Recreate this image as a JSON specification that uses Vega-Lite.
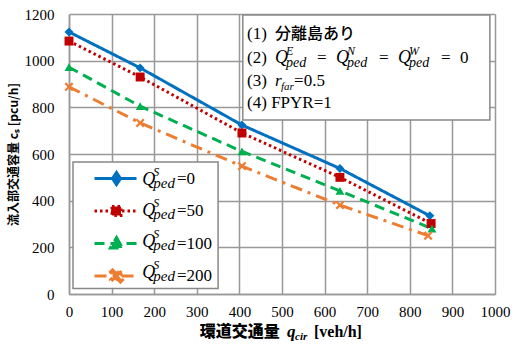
{
  "$schema": "https://vega.github.io/schema/vega-lite/v6.json",
  "width": 426,
  "height": 280,
  "autosize": {"type": "none"},
  "padding": {"left": 69, "top": 14, "right": 20, "bottom": 53},
  "background": "white",
  "config": {
    "view": {"stroke": null},
    "font": "Liberation Serif",
    "text": {"color": "#000000", "font": "Liberation Serif", "align": "left", "baseline": "alphabetic", "fontSize": 17},
    "axis": {
      "gridColor": "#999999",
      "gridWidth": 1.5,
      "domainColor": "#999999",
      "domainWidth": 1.5,
      "ticks": false,
      "labelFont": "Liberation Serif",
      "labelFontSize": 15,
      "labelColor": "#000000",
      "titleColor": "#000000",
      "labelOverlap": false,
      "labelFlush": false,
      "format": "d"
    }
  },
  "layer": [
    {
      "data": {
        "values": [
          {"q": "0", "x": 0, "y": 1123},
          {"q": "0", "x": 167, "y": 969},
          {"q": "0", "x": 406, "y": 724},
          {"q": "0", "x": 636, "y": 538},
          {"q": "0", "x": 847, "y": 335},
          {"q": "50", "x": 0, "y": 1084},
          {"q": "50", "x": 167, "y": 930},
          {"q": "50", "x": 406, "y": 690},
          {"q": "50", "x": 636, "y": 500},
          {"q": "50", "x": 850, "y": 302},
          {"q": "100", "x": 0, "y": 972},
          {"q": "100", "x": 167, "y": 805},
          {"q": "100", "x": 406, "y": 611},
          {"q": "100", "x": 636, "y": 442},
          {"q": "100", "x": 852, "y": 280},
          {"q": "200", "x": 0, "y": 888},
          {"q": "200", "x": 167, "y": 733},
          {"q": "200", "x": 406, "y": 548},
          {"q": "200", "x": 636, "y": 381},
          {"q": "200", "x": 843, "y": 250}
        ]
      },
      "resolve": {"legend": {"color": "independent", "shape": "independent", "strokeDash": "independent"}},
      "layer": [
        {
          "mark": {"type": "line", "strokeWidth": 3},
          "encoding": {
            "x": {
              "field": "x", "type": "quantitative",
              "scale": {"domain": [0, 1000], "nice": false},
              "axis": {"values": [0,100,200,300,400,500,600,700,800,900,1000], "labelPadding": 10, "title": null}
            },
            "y": {
              "field": "y", "type": "quantitative",
              "scale": {"domain": [0, 1200], "nice": false},
              "axis": {"values": [0,200,400,600,800,1000,1200], "labelPadding": 15,
                       "title": "流入部交通容量 cₛ [pcu/h]", "titleFont": "Noto Sans CJK JP, Liberation Serif",
                       "titleFontSize": 12, "titleFontWeight": "bold", "titlePadding": 4}
            },
            "color": {
              "field": "q", "type": "nominal",
              "scale": {"domain": ["0","50","100","200"], "range": ["#0070C0","#C00000","#00B050","#ED7D31"]},
              "legend": {
                "orient": "none", "legendX": 4, "legendY": 146, "title": null,
                "strokeColor": null, "fillColor": null, "padding": 10,
                "labelFont": "Liberation Serif", "labelFontSize": 17, "labelColor": "#000000",
                "symbolSize": 196, "rowPadding": 9.5, "labelOffset": 77,
                "labelExpr": "'=' + datum.value",
                "encode": {
                  "symbols": {
                    "update": {
                      "shape": {"signal": "datum.value == '0' ? 'M0.43,0L6.43,0M3.57,-0.86L4.14,0L3.57,0.86L3,0Z' : datum.value == '50' ? 'M0.43,0L6.43,0M2.93,-0.64L4.21,-0.64L4.21,0.64L2.93,0.64Z' : datum.value == '100' ? 'M0.43,0L6.43,0M3.57,-0.86L4.43,0.64L2.71,0.64Z' : 'M0.43,0L6.43,0M2.71,-0.56L3.01,-0.86L3.57,-0.3L4.13,-0.86L4.43,-0.56L3.87,0L4.43,0.56L4.13,0.86L3.57,0.3L3.01,0.86L2.71,0.56L3.27,0Z'"},
                      "strokeDash": {"signal": "datum.value == '0' ? [1,0] : datum.value == '50' ? [2.5,3] : datum.value == '100' ? [10,6] : [12,6,3,6]"},
                      "stroke": {"scale": "color", "field": "value"},
                      "fill": {"scale": "color", "field": "value"},
                      "strokeWidth": {"value": 3},
                      "opacity": {"value": 1}
                    }
                  }
                }
              }
            },
            "strokeDash": {
              "field": "q", "type": "nominal",
              "scale": {"domain": ["0","50","100","200"], "range": [[1,0],[2.5,3],[10,6],[12,6,3,6]]},
              "legend": null
            }
          }
        },
        {
          "mark": {"type": "point", "filled": true, "opacity": 1, "size": 80},
          "encoding": {
            "x": {"field": "x", "type": "quantitative"},
            "y": {"field": "y", "type": "quantitative"},
            "color": {"field": "q", "type": "nominal", "legend": null},
            "shape": {
              "field": "q", "type": "nominal",
              "scale": {"domain": ["0","50","100","200"], "range": ["diamond", "square", "triangle-up", "M-1,-0.65L-0.65,-1L0,-0.35L0.65,-1L1,-0.65L0.35,0L1,0.65L0.65,1L0,0.35L-0.65,1L-1,0.65L-0.35,0Z"]},
              "legend": null
            }
          }
        }
      ]
    },
    {
      "data": {"values": [{}]},
      "layer": [
        {
          "mark": {"type": "rect", "fill": "white", "stroke": "#888888", "strokeWidth": 1.5},
          "encoding": {
            "x": {"datum": 408, "type": "quantitative"},
            "x2": {"datum": 988},
            "y": {"datum": 1196, "type": "quantitative"},
            "y2": {"datum": 746}
          }
        },
        {
          "mark": {"type": "rect", "fill": "white", "stroke": "#888888", "strokeWidth": 1.5},
          "encoding": {
            "x": {"datum": 9.4, "type": "quantitative"},
            "x2": {"datum": 350},
            "y": {"datum": 566, "type": "quantitative"},
            "y2": {"datum": 24}
          }
        },
        {"mark": {"type": "text", "dx": 0},
         "encoding": {"x": {"datum": 418}, "y": {"datum": 1093}, "text": {"value": "(1)"}}},
        {"mark": {"type": "text", "dx": 28, "font": "Noto Sans CJK JP", "fontSize": 16, "fontWeight": 500},
         "encoding": {"x": {"datum": 418}, "y": {"datum": 1093}, "text": {"value": "分離島あり"}}},

        {"mark": {"type": "text", "dx": 0},
         "encoding": {"x": {"datum": 418}, "y": {"datum": 990}, "text": {"value": "(2)"}}},
        {"mark": {"type": "text", "dx": 28, "fontStyle": "italic", "fontSize": 18},
         "encoding": {"x": {"datum": 418}, "y": {"datum": 990}, "text": {"value": "Q"}}},
        {"mark": {"type": "text", "dx": 39, "dy": -8, "fontStyle": "italic", "fontSize": 12},
         "encoding": {"x": {"datum": 418}, "y": {"datum": 990}, "text": {"value": "E"}}},
        {"mark": {"type": "text", "dx": 39, "dy": 4, "fontStyle": "italic", "fontSize": 14},
         "encoding": {"x": {"datum": 418}, "y": {"datum": 990}, "text": {"value": "ped"}}},
        {"mark": {"type": "text", "dx": 70},
         "encoding": {"x": {"datum": 418}, "y": {"datum": 990}, "text": {"value": "="}}},
        {"mark": {"type": "text", "dx": 89, "fontStyle": "italic", "fontSize": 18},
         "encoding": {"x": {"datum": 418}, "y": {"datum": 990}, "text": {"value": "Q"}}},
        {"mark": {"type": "text", "dx": 100, "dy": -8, "fontStyle": "italic", "fontSize": 12},
         "encoding": {"x": {"datum": 418}, "y": {"datum": 990}, "text": {"value": "N"}}},
        {"mark": {"type": "text", "dx": 100, "dy": 4, "fontStyle": "italic", "fontSize": 14},
         "encoding": {"x": {"datum": 418}, "y": {"datum": 990}, "text": {"value": "ped"}}},
        {"mark": {"type": "text", "dx": 132},
         "encoding": {"x": {"datum": 418}, "y": {"datum": 990}, "text": {"value": "="}}},
        {"mark": {"type": "text", "dx": 151, "fontStyle": "italic", "fontSize": 18},
         "encoding": {"x": {"datum": 418}, "y": {"datum": 990}, "text": {"value": "Q"}}},
        {"mark": {"type": "text", "dx": 162, "dy": -8, "fontStyle": "italic", "fontSize": 12},
         "encoding": {"x": {"datum": 418}, "y": {"datum": 990}, "text": {"value": "W"}}},
        {"mark": {"type": "text", "dx": 162, "dy": 4, "fontStyle": "italic", "fontSize": 14},
         "encoding": {"x": {"datum": 418}, "y": {"datum": 990}, "text": {"value": "ped"}}},
        {"mark": {"type": "text", "dx": 194},
         "encoding": {"x": {"datum": 418}, "y": {"datum": 990}, "text": {"value": "="}}},
        {"mark": {"type": "text", "dx": 213},
         "encoding": {"x": {"datum": 418}, "y": {"datum": 990}, "text": {"value": "0"}}},

        {"mark": {"type": "text", "dx": 0},
         "encoding": {"x": {"datum": 418}, "y": {"datum": 891}, "text": {"value": "(3)"}}},
        {"mark": {"type": "text", "dx": 28, "fontStyle": "italic"},
         "encoding": {"x": {"datum": 418}, "y": {"datum": 891}, "text": {"value": "r"}}},
        {"mark": {"type": "text", "dx": 34, "dy": 4, "fontStyle": "italic", "fontSize": 11},
         "encoding": {"x": {"datum": 418}, "y": {"datum": 891}, "text": {"value": "far"}}},
        {"mark": {"type": "text", "dx": 47},
         "encoding": {"x": {"datum": 418}, "y": {"datum": 891}, "text": {"value": "=0.5"}}},

        {"mark": {"type": "text", "dx": 0},
         "encoding": {"x": {"datum": 418}, "y": {"datum": 797}, "text": {"value": "(4) FPYR=1"}}},

        {"mark": {"type": "text", "fontStyle": "italic", "fontSize": 18},
         "encoding": {"x": {"datum": 172}, "y": {"datum": 467}, "text": {"value": "Q"}}},
        {"mark": {"type": "text", "dx": 11, "dy": -9, "fontStyle": "italic", "fontSize": 12},
         "encoding": {"x": {"datum": 172}, "y": {"datum": 467}, "text": {"value": "S"}}},
        {"mark": {"type": "text", "dx": 11, "dy": 3, "fontStyle": "italic", "fontSize": 15},
         "encoding": {"x": {"datum": 172}, "y": {"datum": 467}, "text": {"value": "ped"}}},
        {"mark": {"type": "text", "fontStyle": "italic", "fontSize": 18},
         "encoding": {"x": {"datum": 172}, "y": {"datum": 334}, "text": {"value": "Q"}}},
        {"mark": {"type": "text", "dx": 11, "dy": -9, "fontStyle": "italic", "fontSize": 12},
         "encoding": {"x": {"datum": 172}, "y": {"datum": 334}, "text": {"value": "S"}}},
        {"mark": {"type": "text", "dx": 11, "dy": 3, "fontStyle": "italic", "fontSize": 15},
         "encoding": {"x": {"datum": 172}, "y": {"datum": 334}, "text": {"value": "ped"}}},
        {"mark": {"type": "text", "fontStyle": "italic", "fontSize": 18},
         "encoding": {"x": {"datum": 172}, "y": {"datum": 201}, "text": {"value": "Q"}}},
        {"mark": {"type": "text", "dx": 11, "dy": -9, "fontStyle": "italic", "fontSize": 12},
         "encoding": {"x": {"datum": 172}, "y": {"datum": 201}, "text": {"value": "S"}}},
        {"mark": {"type": "text", "dx": 11, "dy": 3, "fontStyle": "italic", "fontSize": 15},
         "encoding": {"x": {"datum": 172}, "y": {"datum": 201}, "text": {"value": "ped"}}},
        {"mark": {"type": "text", "fontStyle": "italic", "fontSize": 18},
         "encoding": {"x": {"datum": 172}, "y": {"datum": 69}, "text": {"value": "Q"}}},
        {"mark": {"type": "text", "dx": 11, "dy": -9, "fontStyle": "italic", "fontSize": 12},
         "encoding": {"x": {"datum": 172}, "y": {"datum": 69}, "text": {"value": "S"}}},
        {"mark": {"type": "text", "dx": 11, "dy": 3, "fontStyle": "italic", "fontSize": 15},
         "encoding": {"x": {"datum": 172}, "y": {"datum": 69}, "text": {"value": "ped"}}},

        {"mark": {"type": "text", "font": "Noto Sans CJK JP", "fontSize": 16, "fontWeight": 900},
         "encoding": {"x": {"datum": 307}, "y": {"datum": -184}, "text": {"value": "環道交通量"}}},
        {"mark": {"type": "text", "fontStyle": "italic", "fontWeight": "bold", "fontSize": 17},
         "encoding": {"x": {"datum": 512}, "y": {"datum": -184}, "text": {"value": "q"}}},
        {"mark": {"type": "text", "dx": 8, "dy": 3, "fontStyle": "italic", "fontWeight": "bold", "fontSize": 11},
         "encoding": {"x": {"datum": 512}, "y": {"datum": -184}, "text": {"value": "cir"}}},
        {"mark": {"type": "text", "fontWeight": "bold", "fontSize": 16},
         "encoding": {"x": {"datum": 575}, "y": {"datum": -184}, "text": {"value": "[veh/h]"}}}
      ]
    }
  ]
}
